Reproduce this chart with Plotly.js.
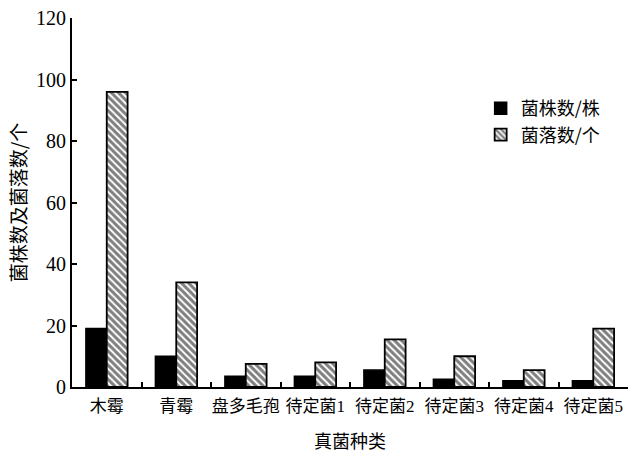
<!DOCTYPE html>
<html>
<head>
<meta charset="utf-8">
<script src="https://cdn.plot.ly/plotly-3.0.1.min.js"></script>
<style>html,body{margin:0;padding:0;background:#fff;}#chart{width:639px;height:453px;}</style>
</head>
<body>
<div id="chart"></div>
<script>
const categories = ["木霉", "青霉", "盘多毛孢", "待定菌1", "待定菌2", "待定菌3", "待定菌4", "待定菌5"];
const strainCounts = [19, 10, 3.5, 3.5, 5.5, 2.5, 2, 2];
const colonyCounts = [96, 34, 7.5, 8, 15.5, 10, 5.5, 19];
const seriesNames = ["菌株数/株", "菌落数/个"];
const yTicks = [0, 20, 40, 60, 80, 100, 120];

const cjk = "Noto Sans CJK SC";
const serif = "Liberation Serif, Noto Sans CJK SC";

const traces = [
  {
    type: "bar", x: categories, y: strainCounts, name: seriesNames[0],
    marker: {color: "#000", line: {color: "#000", width: 1.5}}
  },
  {
    type: "bar", x: categories, y: colonyCounts, name: seriesNames[1],
    marker: {
      color: "#fff",
      line: {color: "#000", width: 1.8},
      pattern: {shape: "\\", fgcolor: "#000", bgcolor: "#fff", size: 5, solidity: 0.6, fillmode: "overlay"}
    }
  }
];

const layout = {
  width: 639, height: 453,
  margin: {l: 72, r: 11, t: 18, b: 66},
  paper_bgcolor: "#fff", plot_bgcolor: "#fff",
  barmode: "group", bargap: 0.4, bargroupgap: 0,
  showlegend: true,
  legend: {x: 0.735, y: 0.805, xanchor: "left", yanchor: "top",
           font: {family: cjk, size: 18, color: "#000"}, tracegroupgap: 0,
           itemwidth: 30, bgcolor: "rgba(0,0,0,0)"},
  xaxis: {
    type: "category", showline: true, linecolor: "#000", linewidth: 2,
    ticks: "inside", tickson: "boundaries", ticklen: 5, tickwidth: 2, tickcolor: "#000",
    tickangle: 0, automargin: false, ticklabelstandoff: 3,
    tickfont: {family: serif, size: 17, color: "#000"},
    title: {text: "真菌种类", font: {family: cjk, size: 18, color: "#000"}, standoff: 20},
    showgrid: false, zeroline: false, mirror: false
  },
  yaxis: {
    range: [0, 120], tickvals: yTicks, ticktext: yTicks.map(String),
    showline: true, linecolor: "#000", linewidth: 2,
    ticks: "inside", ticklen: 5, tickwidth: 2, tickcolor: "#000",
    tickfont: {family: serif, size: 20, color: "#000"},
    title: {text: "菌株数及菌落数/个", font: {family: cjk, size: 19, color: "#000"}, standoff: 4},
    showgrid: false, zeroline: false, automargin: false
  }
};

Plotly.newPlot("chart", traces, layout, {displayModeBar: false, staticPlot: true});
</script>
</body>
</html>
